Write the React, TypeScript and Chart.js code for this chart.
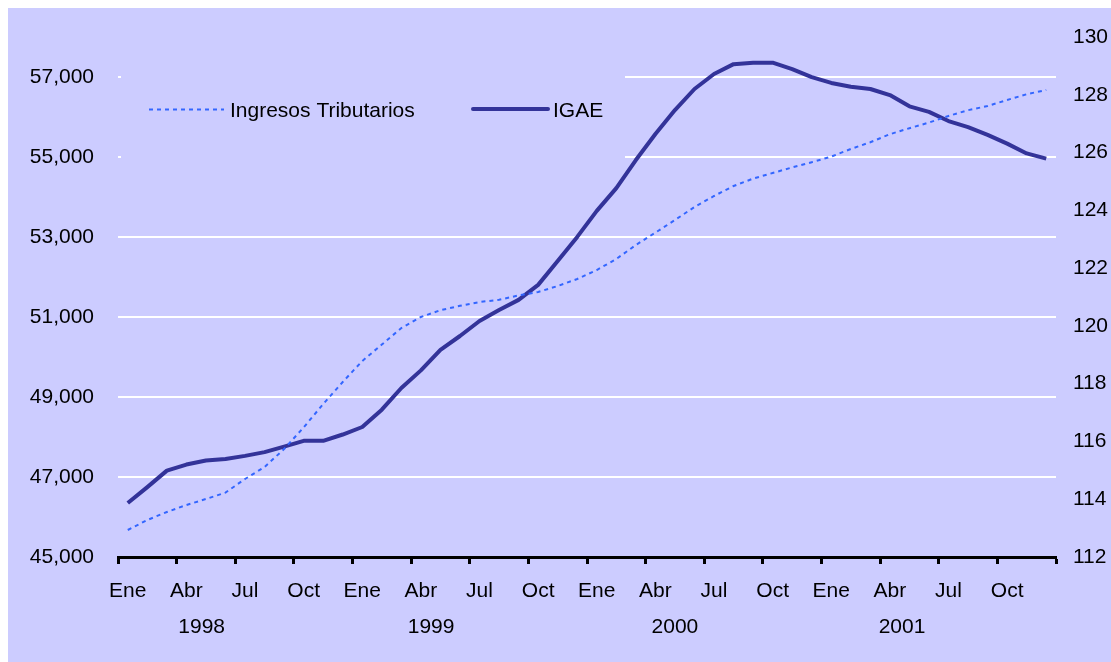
import React, { useEffect, useRef } from "react";
import { Chart, registerables } from "chart.js";

Chart.register(...registerables);

const YEARS = ["1998", "1999", "2000", "2001"];
const MONTH_NAMES = ["Ene", "Feb", "Mar", "Abr", "May", "Jun", "Jul", "Ago", "Sep", "Oct", "Nov", "Dic"];
const CATEGORIES = YEARS.flatMap((y) => MONTH_NAMES.map((m) => `${m} ${y}`));

// Ingresos Tributarios (left axis)
const INGRESOS = [
  45675, 45925, 46125, 46300, 46450, 46610, 46950, 47250, 47700, 48240, 48825, 49375,
  49900, 50310, 50725, 51000, 51170, 51280, 51375, 51430, 51540, 51625, 51775, 51950,
  52175, 52450, 52800, 53110, 53425, 53750, 54025, 54275, 54460, 54600, 54740, 54870,
  55010, 55200, 55370, 55570, 55720, 55860, 56025, 56170, 56275, 56425, 56570, 56675,
];

// IGAE (right axis)
const IGAE = [
  113.87, 114.42, 114.99, 115.2, 115.34, 115.39, 115.5, 115.63, 115.82, 116.02, 116.02, 116.24,
  116.5, 117.1, 117.85, 118.46, 119.17, 119.65, 120.17, 120.55, 120.9, 121.42, 122.25, 123.08,
  123.98, 124.77, 125.74, 126.64, 127.47, 128.2, 128.72, 129.06, 129.11, 129.11, 128.89, 128.61,
  128.41, 128.28, 128.2, 127.99, 127.6, 127.41, 127.09, 126.88, 126.61, 126.31, 125.97, 125.79,
];

const LEFT_TICKS = [45000, 47000, 49000, 51000, 53000, 55000, 57000];
const LEFT_MIN = 45000;
const LEFT_MAX = 58000;
const RIGHT_MIN = 112;
const RIGHT_MAX = 130;
const RIGHT_STEP = 2;
// fractional category index where each year label is centred
const YEAR_LABEL_POS = [3.78, 15.52, 28.0, 39.62];

const LEGEND_LABELS = ["Ingresos Tributarios", "IGAE"];

const BG = "#CCCCFF";
const C_ING = "#3366FF";
const C_IGAE = "#333399";
const FONT = "Arial, 'Liberation Sans', sans-serif";
const FS = 21;

export default function App() {
  const ref = useRef<HTMLCanvasElement | null>(null);

  useEffect(() => {
    const canvas = ref.current;
    if (!canvas) return;
    document.documentElement.style.overflow = "hidden";

    const bgPlugin = {
      id: "bg",
      beforeDraw(chart: any) {
        const ctx = chart.ctx;
        ctx.save();
        ctx.fillStyle = BG;
        ctx.fillRect(0, 0, chart.width, chart.height);
        ctx.restore();
      },
      beforeDatasetsDraw(chart: any) {
        // legend box (covers gridlines)
        const ctx = chart.ctx;
        ctx.save();
        ctx.fillStyle = BG;
        ctx.fillRect(113, 40, 504, 130);
        ctx.restore();
      },
      afterDraw(chart: any) {
        const ctx = chart.ctx;
        ctx.save();
        // legend
        ctx.font = `${FS}px ${FONT}`;
        ctx.fillStyle = "#000";
        ctx.textBaseline = "alphabetic";
        ctx.textAlign = "left";
        ctx.strokeStyle = C_ING;
        ctx.lineWidth = 2;
        ctx.setLineDash([4, 4]);
        ctx.beginPath();
        ctx.moveTo(141, 101.5);
        ctx.lineTo(216, 101.5);
        ctx.stroke();
        ctx.setLineDash([]);
        ctx.fillText(LEGEND_LABELS[0], 222, 108.5);
        ctx.strokeStyle = C_IGAE;
        ctx.lineWidth = 4;
        ctx.lineCap = "round";
        ctx.beginPath();
        ctx.moveTo(465, 101);
        ctx.lineTo(540, 101);
        ctx.stroke();
        ctx.fillText(LEGEND_LABELS[1], 545, 108.5);
        // year labels
        const xs = chart.scales.x;
        ctx.textAlign = "center";
        YEARS.forEach((y, i) => {
          const px = xs.getPixelForValue(YEAR_LABEL_POS[i]);
          ctx.fillText(y, px, 625);
        });
        ctx.restore();
      },
    };

    const chart = new Chart(canvas, {
      type: "line",
      data: {
        labels: CATEGORIES,
        datasets: [
          {
            label: LEGEND_LABELS[0],
            data: INGRESOS,
            yAxisID: "y",
            borderColor: C_ING,
            borderWidth: 2,
            borderDash: [4, 4],
            pointRadius: 0,
            tension: 0,
            fill: false,
          },
          {
            label: LEGEND_LABELS[1],
            data: IGAE,
            yAxisID: "y1",
            borderColor: C_IGAE,
            borderWidth: 4,
            pointRadius: 0,
            tension: 0,
            fill: false,
            borderJoinStyle: "round",
          },
        ],
      },
      options: {
        responsive: false,
        animation: false,
        layout: { padding: { top: 29, left: 0, right: 0, bottom: 0 } },
        plugins: { legend: { display: false }, tooltip: { enabled: false } },
        scales: {
          x: {
            type: "category",
            offset: true,
            afterFit(scale: any) {
              scale.height = 105;
            },
            grid: {
              offset: true,
              drawOnChartArea: false,
              drawTicks: true,
              tickLength: 7,
              tickWidth: 3,
              tickColor: (ctx: any) =>
                ctx.index === undefined || ctx.index % 3 === 0 ? "#000" : "rgba(0,0,0,0)",
            },
            border: { display: true, color: "#000", width: 3 },
            ticks: {
              autoSkip: false,
              maxRotation: 0,
              minRotation: 0,
              padding: 15,
              color: "#000",
              font: { size: FS, family: FONT },
              callback: (_v: any, i: number) => (i % 3 === 0 ? MONTH_NAMES[i % 12] : ""),
            },
          },
          y: {
            position: "left",
            min: LEFT_MIN,
            max: LEFT_MAX,
            afterFit(scale: any) {
              scale.width = 110;
              scale.paddingTop = 0;
              scale.paddingBottom = 0;
            },
            afterBuildTicks(scale: any) {
              scale.ticks = LEFT_TICKS.map((v) => ({ value: v }));
            },
            grid: {
              color: (ctx: any) => (ctx.tick && ctx.tick.value === LEFT_MIN ? "rgba(0,0,0,0)" : "#FFFFFF"),
              lineWidth: 2,
              drawTicks: false,
            },
            border: { display: false },
            ticks: {
              padding: 24,
              color: "#000",
              font: { size: FS, family: FONT },
              callback: (v: any) => Number(v).toLocaleString("en-US"),
            },
          },
          y1: {
            position: "right",
            min: RIGHT_MIN,
            max: RIGHT_MAX,
            afterFit(scale: any) {
              scale.width = 55;
              scale.paddingTop = 0;
              scale.paddingBottom = 0;
            },
            grid: { drawOnChartArea: false, drawTicks: false },
            border: { display: false },
            ticks: {
              stepSize: RIGHT_STEP,
              padding: 17,
              color: "#000",
              font: { size: FS, family: FONT },
            },
          },
        },
      },
      plugins: [bgPlugin],
    } as any);

    return () => chart.destroy();
  }, []);

  return (
    <div style={{ position: "fixed", left: 8, top: 8 }}>
      <canvas ref={ref} width={1103} height={654} style={{ display: "block", width: 1103, height: 654 }} />
    </div>
  );
}
